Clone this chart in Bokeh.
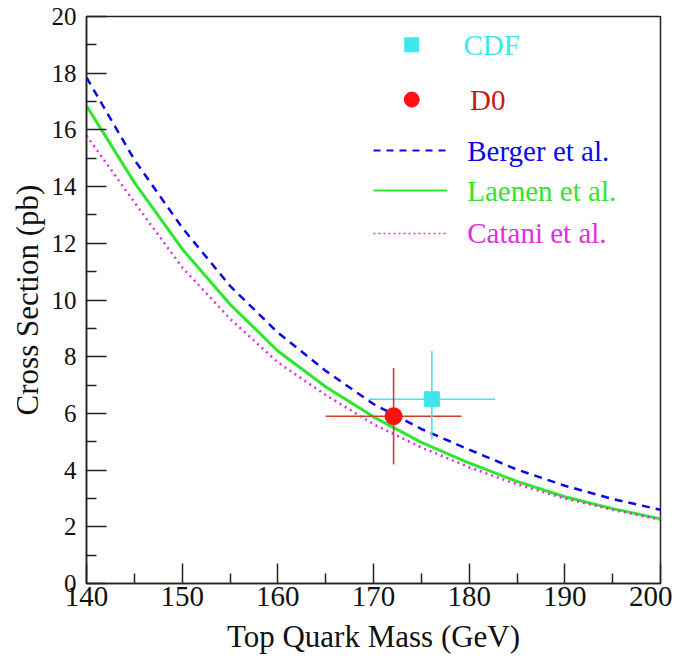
from bokeh.plotting import figure
from bokeh.models import FixedTicker, Range1d, ColumnDataSource
from bokeh.core.properties import value
from bokeh.embed import file_html
from bokeh.resources import INLINE

# ---- data ----
mass = [140, 145, 150, 155, 160, 165, 170, 175, 180, 185, 190, 195, 200]
berger = [17.85, 14.95, 12.55, 10.50, 8.85, 7.50, 6.33, 5.45, 4.72, 4.02, 3.45, 2.98, 2.60]
laenen = [16.85, 14.15, 11.80, 9.85, 8.20, 6.94, 5.88, 4.98, 4.25, 3.60, 3.06, 2.64, 2.28]
catani = [15.80, 13.45, 11.15, 9.34, 7.80, 6.65, 5.62, 4.80, 4.10, 3.50, 3.00, 2.60, 2.25]

exp_names = ["CDF", "D0"]
exp_mass = [176.1, 172.1]
exp_mass_err = [6.6, 7.1]
exp_xs = [6.5, 5.9]
exp_xs_err_hi = [1.7, 1.7]
exp_xs_err_lo = [1.4, 1.7]

x_ticks = [140, 150, 160, 170, 180, 190, 200]
x_minor = [145, 155, 165, 175, 185, 195]
y_ticks = [0, 2, 4, 6, 8, 10, 12, 14, 16, 18, 20]
y_minor = [1, 3, 5, 7, 9, 11, 13, 15, 17, 19]

FONT = "Liberation Serif"
CYAN = "#3ee6ee"
RED = "#ff1010"
RED_BAR = "#d23a2a"
BLUE = "#0a0ae6"
GREEN = "#2ee62e"
MAGENTA = "#e02ee0"

p = figure(width=672, height=658, x_range=Range1d(140, 200), y_range=Range1d(0, 20),
           output_backend="svg", toolbar_location=None,
           min_border_left=86, min_border_right=12, min_border_top=16, min_border_bottom=75,
           x_axis_label="Top Quark Mass (GeV)", y_axis_label="Cross Section (pb)")
p.xgrid.visible = False
p.ygrid.visible = False
p.outline_line_color = "#222222"
p.outline_line_width = 1.5
p.background_fill_color = "white"
p.border_fill_color = "white"

p.xaxis.ticker = FixedTicker(ticks=x_ticks, minor_ticks=x_minor)
p.yaxis.ticker = FixedTicker(ticks=y_ticks, minor_ticks=y_minor)
for ax in (p.xaxis[0], p.yaxis[0]):
    ax.major_tick_in = 20
    ax.major_tick_out = 0
    ax.minor_tick_in = 10
    ax.minor_tick_out = 0
    ax.axis_line_color = "#222222"
    ax.axis_line_width = 1.5
    ax.major_tick_line_color = "#222222"
    ax.major_tick_line_width = 1.5
    ax.minor_tick_line_color = "#222222"
    ax.minor_tick_line_width = 1.5
    ax.major_label_text_font = FONT
    ax.major_label_text_color = "#111111"
    ax.axis_label_text_font = FONT
    ax.axis_label_text_font_style = "normal"
    ax.axis_label_text_color = "#111111"
p.xaxis.major_label_text_font_size = "29px"
p.yaxis.major_label_text_font_size = "25px"
p.xaxis.axis_label_text_font_size = "31px"
p.yaxis.axis_label_text_font_size = "31px"
p.xaxis.major_label_standoff = 3
p.xaxis.axis_label_standoff = 10
p.yaxis.major_label_standoff = 10
p.yaxis.axis_label_standoff = 4

# ---- theory curves ----
p.line(mass, berger, line_color=BLUE, line_width=2.5, line_dash="8 6")
p.line(mass, laenen, line_color=GREEN, line_width=3)
p.line(mass, catani, line_color=MAGENTA, line_width=2.5, line_dash="2 4")

# ---- measurements ----
src = ColumnDataSource(dict(
    m=exp_mass,
    m_lo=[m - e for m, e in zip(exp_mass, exp_mass_err)],
    m_hi=[m + e for m, e in zip(exp_mass, exp_mass_err)],
    xs=exp_xs,
    xs_lo=[s - e for s, e in zip(exp_xs, exp_xs_err_lo)],
    xs_hi=[s + e for s, e in zip(exp_xs, exp_xs_err_hi)],
    bar_color=[CYAN, RED_BAR],
))
p.segment(x0="m_lo", x1="m_hi", y0="xs", y1="xs", source=src, line_color="bar_color", line_width=1.6)
p.segment(x0="m", x1="m", y0="xs_lo", y1="xs_hi", source=src, line_color="bar_color", line_width=1.6)
p.scatter(x=[exp_mass[0]], y=[exp_xs[0]], marker="square", size=15, fill_color=CYAN, line_color=CYAN)
p.scatter(x=[exp_mass[1]], y=[exp_xs[1]], marker="circle", size=17, fill_color=RED, line_color=RED)

# ---- legend (drawn manually to colour each label) ----
leg_sym_x = 174.0
leg_line_x0, leg_line_x1 = 170.0, 177.7
leg_text_x = [179.4, 180.1, 179.8, 179.8, 179.8]
leg_y = [19.0, 17.07, 15.27, 13.86, 12.35]
leg_labels = ["CDF", "D0", "Berger et al.", "Laenen et al.", "Catani et al."]
leg_colors = [CYAN, "#c81818", BLUE, GREEN, MAGENTA]

p.scatter(x=[leg_sym_x], y=[leg_y[0]], marker="square", size=14, fill_color=CYAN, line_color=CYAN)
p.scatter(x=[leg_sym_x], y=[leg_y[1]], marker="circle", size=15, fill_color=RED, line_color=RED)
p.line([leg_line_x0, leg_line_x1], [leg_y[2]] * 2, line_color=BLUE, line_width=2, line_dash="7 6")
p.line([leg_line_x0, leg_line_x1], [leg_y[3]] * 2, line_color=GREEN, line_width=2)
p.line([leg_line_x0, leg_line_x1], [leg_y[4]] * 2, line_color=MAGENTA, line_width=1.5, line_dash="2 3")
p.text(x=leg_text_x, y=leg_y, text=leg_labels, text_color=leg_colors,
       text_font=value(FONT), text_font_size="29px", text_baseline="middle", text_align="left")

open("out.html", "w").write(file_html(p, INLINE))
